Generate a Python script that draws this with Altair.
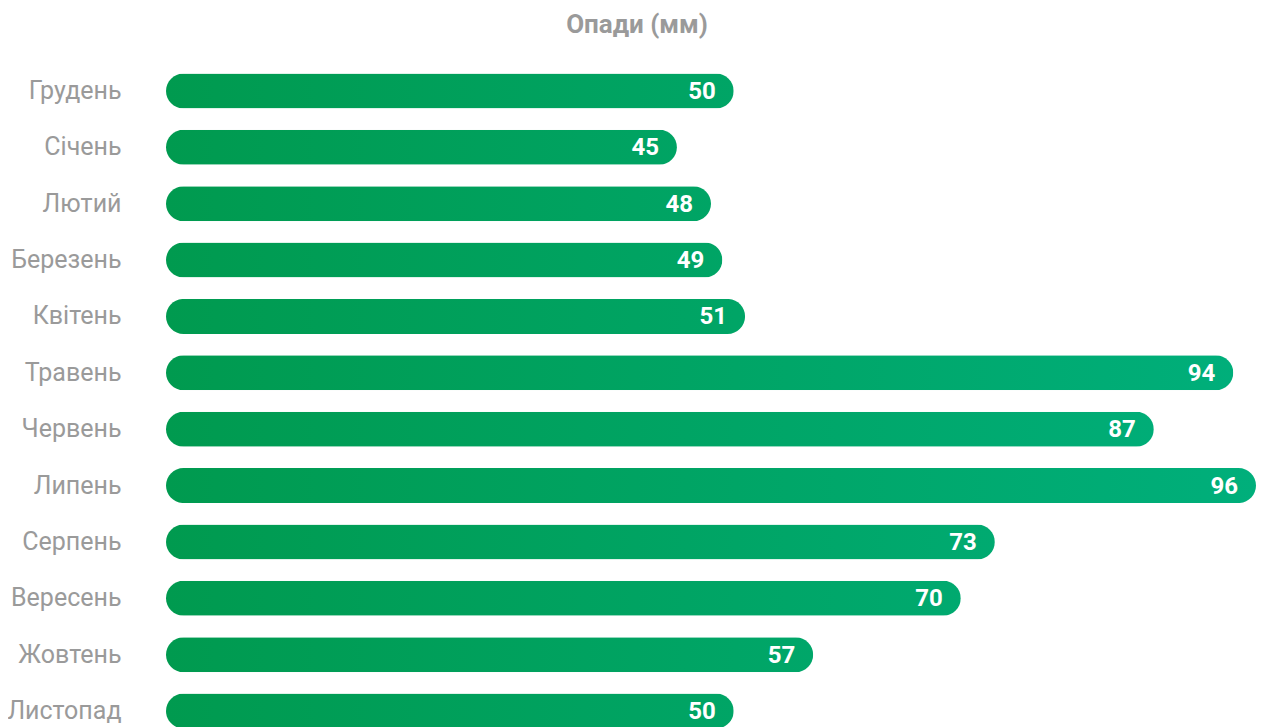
import altair as alt
import pandas as pd

months = ["Грудень", "Січень", "Лютий", "Березень", "Квітень", "Травень",
          "Червень", "Липень", "Серпень", "Вересень", "Жовтень", "Листопад"]
values = [50, 45, 48, 49, 51, 94, 87, 96, 73, 70, 57, 50]

df = pd.DataFrame({"month": months, "value": values})

C0 = "#009a4f"
C1 = "#00af7b"
vmax = max(values)

def grad(v):
    return {
        "gradient": "linear",
        "x1": 0, "y1": 0, "x2": vmax / v, "y2": 0,
        "stops": [{"offset": 0, "color": C0}, {"offset": 1, "color": C1}],
    }

conds = [{"test": f"datum.month === '{m}'", "value": grad(v)} for m, v in zip(months, values)]

y = alt.Y("month:N", sort=months, title=None,
          scale=alt.Scale(paddingInner=0.45, paddingOuter=0),
          axis=alt.Axis(ticks=False, domain=False, labelPadding=45,
                        labelFont="Roboto", labelFontSize=25, labelColor="#9a9a9a"))
x = alt.X("value:Q", title=None, axis=None, scale=alt.Scale(domain=[0, vmax], nice=False))

bars = alt.Chart(df).mark_bar(size=35, cornerRadius=17.5).encode(
    x=x, y=y, fill={"condition": conds, "value": C0}
)
labels = alt.Chart(df).mark_text(align="right", baseline="middle", dx=-18, dy=1,
                                 color="white", font="Roboto", fontWeight="bold",
                                 fontSize=24).encode(
    x=x, y=y, text="value:Q"
)

chart = (bars + labels).properties(
    width=1090, height=651,
    title=alt.TitleParams("Опади (мм)", font="Roboto", fontSize=26, fontWeight="bold",
                          color="#9a9a9a", anchor="middle", dx=-74, offset=36),
    autosize=alt.AutoSizeParams(type="none"),
    padding={"left": 158, "top": 67.5, "right": 0, "bottom": 0},
).configure_view(stroke=None)

chart.save("out.html", embed_options={"renderer": "svg", "actions": False})
